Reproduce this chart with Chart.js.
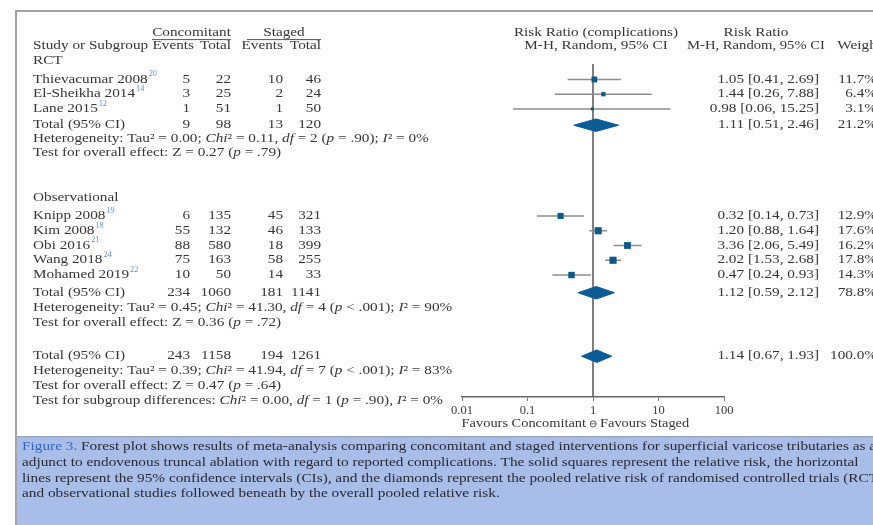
<!DOCTYPE html>
<html><head><meta charset="utf-8">
<script src="https://cdn.jsdelivr.net/npm/chart.js@4/dist/chart.umd.min.js"></script>
<style>html,body{margin:0;padding:0;background:#fff;overflow:hidden}canvas{display:block}</style>
</head><body><canvas id="c" width="873" height="525"></canvas>
<script>
// ---------------- DATA ----------------
const studies      = ["Thievacumar 2008","El-Sheikha 2014","Lane 2015","Knipp 2008","Kim 2008","Obi 2016","Wang 2018","Mohamed 2019"];
const refNumbers   = ["20","14","12","19","18","21","24","22"];
const concEvents   = [5, 3, 1, 6, 55, 88, 75, 10];
const concTotal    = [22, 25, 51, 135, 132, 580, 163, 50];
const stagEvents   = [10, 2, 1, 45, 46, 18, 58, 14];
const stagTotal    = [46, 24, 50, 321, 133, 399, 255, 33];
const riskRatio    = [1.05, 1.44, 0.98, 0.32, 1.20, 3.36, 2.02, 0.47];
const ciLow        = [0.41, 0.26, 0.06, 0.14, 0.88, 2.06, 1.53, 0.24];
const ciHigh       = [2.69, 7.88, 15.25, 0.73, 1.64, 5.49, 2.68, 0.93];
const weights      = [11.7, 6.4, 3.1, 12.9, 17.6, 16.2, 17.8, 14.3];

const groups         = ["RCT", "Observational"];
const totalConcEv    = [9, 234, 243];
const totalConcTot   = [98, 1060, 1158];
const totalStagEv    = [13, 181, 194];
const totalStagTot   = [120, 1141, 1261];
const totalRR        = [1.11, 1.12, 1.14];
const totalLow       = [0.51, 0.59, 0.67];
const totalHigh      = [2.46, 2.12, 1.93];
const totalWeight    = [21.2, 78.8, 100.0];
const heterogeneityText = [
  "Heterogeneity: Tau² = 0.00; _Chi_² = 0.11, _df_ = 2 (_p_ = .90); _I_² = 0%",
  "Heterogeneity: Tau² = 0.45; _Chi_² = 41.30, _df_ = 4 (_p_ < .001); _I_² = 90%",
  "Heterogeneity: Tau² = 0.39; _Chi_² = 41.94, _df_ = 7 (_p_ < .001); _I_² = 83%"
];
const overallEffectText = [
  "Test for overall effect: Z = 0.27 (_p_ = .79)",
  "Test for overall effect: Z = 0.36 (_p_ = .72)",
  "Test for overall effect: Z = 0.47 (_p_ = .64)"
];
const subgroupText = "Test for subgroup differences: _Chi_² = 0.00, _df_ = 1 (_p_ = .90), _I_² = 0%";
const xTicks      = [0.01, 0.1, 1, 10, 100];
const xTickLabels = ["0.01", "0.1", "1", "10", "100"];
const favoursLeft = "Favours Concomitant", favoursMid = "⊖", favoursRight = "Favours Staged";
const captionLead = "Figure 3.";
const captionLines = [
  " Forest plot shows results of meta-analysis comparing concomitant and staged interventions for superficial varicose tributaries as an",
  "adjunct to endovenous truncal ablation with regard to reported complications. The solid squares represent the relative risk, the horizontal",
  "lines represent the 95% confidence intervals (CIs), and the diamonds represent the pooled relative risk of randomised controlled trials (RCTs)",
  "and observational studies followed beneath by the overall pooled relative risk."
];

// ---------------- LAYOUT (half-row slots, pixels) ----------------
const W = 873, H = 525;
const ROW0 = 61, HALF = 7.38;
const PLOT_TOP = 64, PLOT_BOTTOM = 397, PLOT_LEFT = 462, PLOT_RIGHT = 724, XAXIS_H = 30;
const slotHead1 = -3.75, slotHead2 = -2, slotRule = -2.9;
const slotGroup = [0, 18.5];
const slotStudy = [2.5, 4.5, 6.5, 21, 23, 25, 27, 29];
const slotTotal = [8.7, 31.4, 40];
const slotHet = [10.5, 33.5, 42];
const slotTest = [12.5, 35.5, 44];
const slotSub = 46;
const DIAM_HALF = 0.85;
const COL_LABEL = 33, COL_CE = 190, COL_CT = 231, COL_SE = 283, COL_ST = 321, HEAD_CE = 194;
const COL_RR = 819, COL_W = 877, HEAD_W = 881, HEAD_RR = 756, HEAD_PLOT = 596;
const FS = 12, SX = 1.27;
const CAP_FS = 12, CAP_X = 22, CAP_RIGHT = 876;
const TXT = '#363636', MARK = '#0d5a8a', DIAMC = '#0b5c96', CIC = '#8d8d8d';
const SERIF = '"Liberation Serif","Times New Roman",serif';

function fontStr(size, it, bold){ return (it?'italic ':'')+(bold?'bold ':'')+size+'px '+SERIF; }
function drawText(ctx, str, x, y, o){
  o = o || {};
  const size = o.size || FS, sx = o.sx || SX;
  const segs = str.split('_').map((t,i)=>({t, it: i%2===1})).filter(s=>s.t.length);
  let total = 0;
  segs.forEach(s=>{ ctx.font = fontStr(size, s.it, o.bold); s.w = ctx.measureText(s.t).width*sx; total += s.w; });
  let cx = o.align==='right' ? x-total : (o.align==='center' ? x-total/2 : x);
  ctx.fillStyle = o.color || TXT; ctx.textBaseline = 'middle'; ctx.textAlign = 'left';
  segs.forEach(s=>{ ctx.font = fontStr(size, s.it, o.bold); ctx.save(); ctx.translate(cx, y); ctx.scale(sx,1); ctx.fillText(s.t,0,0); ctx.restore(); cx += s.w; });
  return cx;
}
const fmt2 = v => v.toFixed(2);

const bgPlugin = {
  id: 'bg',
  beforeDraw(chart){
    const ctx = chart.ctx; ctx.save();
    ctx.fillStyle = '#fff'; ctx.fillRect(0,0,W,H);
    ctx.fillStyle = '#a4a4a4'; ctx.fillRect(15,10,W-15,2); ctx.fillRect(15,10,2,H-10);
    ctx.fillStyle = '#a8bde8'; ctx.fillRect(17,437,W-17,H-437);
    ctx.fillStyle = '#98a4bd'; ctx.fillRect(17,436,W-17,1.2);
    // caption: one horizontal scale, fitted so that the first line runs off the right edge as in the figure
    ctx.font = fontStr(CAP_FS);
    const line1 = captionLead + captionLines[0];
    const cut = line1.lastIndexOf(' as an') + 5;
    const capSX = (CAP_RIGHT - CAP_X) / ctx.measureText(line1.slice(0, cut)).width;
    const cy = [447, 463, 479, 494];
    captionLines.forEach((line,i)=>{
      let x = CAP_X;
      if (i===0) x = drawText(ctx, captionLead, x, cy[i], {size:CAP_FS, sx:capSX, color:'#3466c2'});
      drawText(ctx, line, x, cy[i], {size:CAP_FS, sx:capSX, color:'#2a2a33'});
    });
    ctx.restore();
  }
};

const textPlugin = {
  id: 'tables',
  afterDraw(chart){
    const ctx = chart.ctx, ys = chart.scales.y, xs = chart.scales.x;
    const Y = s => ys.getPixelForValue(s);
    ctx.save();
    drawText(ctx, "Concomitant", (152+COL_CT)/2, Y(slotHead1), {align:'center'});
    drawText(ctx, "Staged", (247+COL_ST)/2, Y(slotHead1), {align:'center'});
    ctx.strokeStyle = '#555'; ctx.lineWidth = 1;
    ctx.beginPath(); ctx.moveTo(152, Y(slotRule)); ctx.lineTo(COL_CT, Y(slotRule));
    ctx.moveTo(247, Y(slotRule)); ctx.lineTo(COL_ST, Y(slotRule)); ctx.stroke();
    drawText(ctx, "Study or Subgroup", COL_LABEL, Y(slotHead2));
    drawText(ctx, "Events", HEAD_CE, Y(slotHead2), {align:'right'});
    drawText(ctx, "Total", COL_CT, Y(slotHead2), {align:'right'});
    drawText(ctx, "Events", COL_SE, Y(slotHead2), {align:'right'});
    drawText(ctx, "Total", COL_ST, Y(slotHead2), {align:'right'});
    drawText(ctx, "Risk Ratio (complications)", HEAD_PLOT, Y(slotHead1), {align:'center'});
    drawText(ctx, "M-H, Random, 95% CI", HEAD_PLOT, Y(slotHead2), {align:'center'});
    drawText(ctx, "Risk Ratio", HEAD_RR, Y(slotHead1), {align:'center'});
    drawText(ctx, "M-H, Random, 95% CI", HEAD_RR, Y(slotHead2), {align:'center', sx:1.22});
    drawText(ctx, "Weight", HEAD_W, Y(slotHead2), {align:'right'});
    groups.forEach((g,k)=> drawText(ctx, g, COL_LABEL, Y(slotGroup[k])));
    studies.forEach((s,i)=>{
      const y = Y(slotStudy[i]);
      const xe = drawText(ctx, s, COL_LABEL, y);
      drawText(ctx, refNumbers[i], xe+1, y-5, {size:7.5, sx:1.1, color:'#5b8fd0'});
      drawText(ctx, String(concEvents[i]), COL_CE, y, {align:'right'});
      drawText(ctx, String(concTotal[i]), COL_CT, y, {align:'right'});
      drawText(ctx, String(stagEvents[i]), COL_SE, y, {align:'right'});
      drawText(ctx, String(stagTotal[i]), COL_ST, y, {align:'right'});
      drawText(ctx, fmt2(riskRatio[i])+" ["+fmt2(ciLow[i])+", "+fmt2(ciHigh[i])+"]", COL_RR, y, {align:'right'});
      drawText(ctx, weights[i].toFixed(1)+"%", COL_W, y, {align:'right'});
    });
    totalRR.forEach((v,k)=>{
      const y = Y(slotTotal[k]);
      drawText(ctx, "Total (95% CI)", COL_LABEL, y);
      drawText(ctx, String(totalConcEv[k]), COL_CE, y, {align:'right'});
      drawText(ctx, String(totalConcTot[k]), COL_CT, y, {align:'right'});
      drawText(ctx, String(totalStagEv[k]), COL_SE, y, {align:'right'});
      drawText(ctx, String(totalStagTot[k]), COL_ST, y, {align:'right'});
      drawText(ctx, fmt2(v)+" ["+fmt2(totalLow[k])+", "+fmt2(totalHigh[k])+"]", COL_RR, y, {align:'right'});
      drawText(ctx, totalWeight[k].toFixed(1)+"%", COL_W, y, {align:'right'});
      drawText(ctx, heterogeneityText[k], COL_LABEL, Y(slotHet[k]));
      drawText(ctx, overallEffectText[k], COL_LABEL, Y(slotTest[k]));
    });
    drawText(ctx, subgroupText, COL_LABEL, Y(slotSub));
    const x1 = xs.getPixelForValue(1), yF = 424;
    drawText(ctx, favoursLeft, x1-7, yF, {align:'right', sx:1.2});
    drawText(ctx, favoursMid, x1, yF, {align:'center', size:10, sx:1});
    drawText(ctx, favoursRight, x1+7, yF, {sx:1.2});
    ctx.restore();
  }
};

const yMin = (PLOT_TOP-ROW0)/HALF, yMax = (PLOT_BOTTOM-ROW0)/HALF;
const datasets = [];
datasets.push({
  type:'scatter', data: riskRatio.map((v,i)=>({x:v, y:slotStudy[i]})),
  pointStyle:'rect', pointRadius: weights.map(w=>1.2*Math.sqrt(w)), backgroundColor: MARK, borderWidth: 0
});
totalRR.forEach((v,k)=>{
  const s = slotTotal[k];
  datasets.push({ type:'line', showLine:true,
    data:[{x:totalLow[k],y:s},{x:v,y:s-DIAM_HALF},{x:totalHigh[k],y:s},{x:v,y:s+DIAM_HALF},{x:totalLow[k],y:s}],
    fill:'shape', backgroundColor:DIAMC, borderColor:DIAMC, borderWidth:1, pointRadius:0, tension:0 });
});
riskRatio.forEach((v,i)=>{
  datasets.push({ type:'line', showLine:true, data:[{x:ciLow[i],y:slotStudy[i]},{x:ciHigh[i],y:slotStudy[i]}],
    borderColor:CIC, borderWidth:1.5, pointRadius:0, fill:false });
});
datasets.push({ type:'line', showLine:true, data:[{x:1,y:yMin},{x:1,y:yMax}], borderColor:'#555', borderWidth:1.5, pointRadius:0, fill:false });

new Chart(document.getElementById('c'), {
  type:'scatter',
  data:{ datasets },
  options:{
    responsive:false, animation:false, events:[],
    layout:{ padding:{ left:PLOT_LEFT, right:W-PLOT_RIGHT, top:PLOT_TOP, bottom:H-PLOT_BOTTOM-XAXIS_H } },
    plugins:{ legend:{display:false}, tooltip:{enabled:false} },
    scales:{
      x:{ type:'logarithmic', min:0.01, max:100, position:'bottom',
        afterBuildTicks: s => { s.ticks = xTicks.map(v=>({value:v})); },
        afterFit: s => { s.height = XAXIS_H; },
        ticks:{ autoSkip:false, maxRotation:0, padding:2, color:'#3a3a3a',
          font:{ family:'"Liberation Serif","Times New Roman",serif', size:12.5 },
          callback:(v,i)=>xTickLabels[i] },
        grid:{ drawOnChartArea:false, drawTicks:true, tickLength:4, color:'#777', lineWidth:1 },
        border:{ display:true, color:'#666', width:1.5 } },
      y:{ type:'linear', display:false, reverse:true, min:yMin, max:yMax }
    }
  },
  plugins:[bgPlugin, textPlugin]
});
</script></body></html>
